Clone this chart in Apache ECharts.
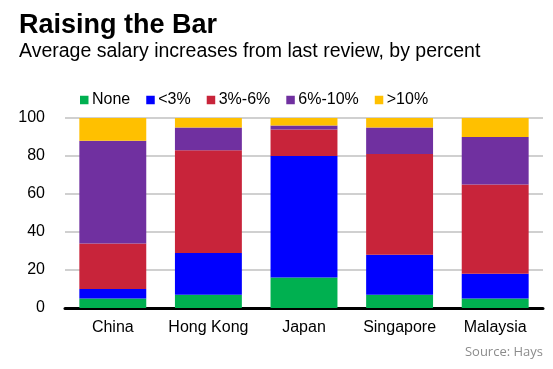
<!DOCTYPE html>
<html><head><meta charset="utf-8">
<script src="https://cdn.jsdelivr.net/npm/echarts@6/dist/echarts.min.js"></script>
<style>html,body{margin:0;padding:0;background:#fff}#c{width:553px;height:369px}</style>
</head><body><div id="c"></div>
<script>
const categories = ['China', 'Hong Kong', 'Japan', 'Singapore', 'Malaysia'];
const seriesNames = ['None', '<3%', '3%-6%', '6%-10%', '>10%'];
const none = [5, 7, 16, 7, 5];
const lt3 = [5, 22, 64, 21, 13];
const p3to6 = [24, 54, 14, 53, 47];
const p6to10 = [54, 12, 2, 14, 25];
const gt10 = [12, 5, 4, 5, 10];
const yTicks = [0, 20, 40, 60, 80, 100];
const colors = ['#00b050', '#0000ff', '#c8243a', '#7030a0', '#ffc000'];
const values = [none, lt3, p3to6, p6to10, gt10];

const chart = echarts.init(document.getElementById('c'), null, {renderer: 'canvas'});
const font = 'Liberation Sans, Arial, sans-serif';
chart.setOption({
  animation: false,
  color: colors,
  title: [
    {text: 'Raising the Bar', left: 19, top: 12, padding: 0, textStyle: {fontFamily: font, fontSize: 27, fontWeight: 'bold', color: '#000'}},
    {text: 'Average salary increases from last review, by percent', left: 19, top: 42, padding: 0, textStyle: {fontFamily: font, fontSize: 19.5, fontWeight: 'normal', color: '#000'}},
    {text: 'Source: Hays', right: 10, top: 346, padding: 0, textStyle: {fontFamily: 'Open Sans, sans-serif', fontSize: 13, fontWeight: 'normal', color: '#8c8c8c'}}
  ],
  legend: {
    left: 80, top: 92, padding: 0,
    icon: 'rect', itemWidth: 8.5, itemHeight: 8.5, itemGap: 16,
    textStyle: {fontFamily: font, fontSize: 16, color: '#000', padding: [0, 0, 0, -1.5]},
    data: seriesNames
  },
  grid: {left: 65, right: 10, top: 118, bottom: 61},
  xAxis: {
    type: 'category', data: categories,
    axisLine: {lineStyle: {color: '#000', width: 3}},
    axisTick: {show: false},
    axisLabel: {fontFamily: font, fontSize: 16, color: '#000', margin: 12, interval: 0}
  },
  yAxis: {
    type: 'value', min: 0, max: 100, interval: 20,
    axisLine: {show: false}, axisTick: {show: false},
    axisLabel: {fontFamily: font, fontSize: 16, color: '#000', margin: 20,
      formatter: v => yTicks.includes(v) ? String(v) : ''},
    splitLine: {lineStyle: {color: '#c0c0c0', width: 1.5}}
  },
  series: seriesNames.map((n, i) => ({
    name: n, type: 'bar', stack: 'total', barWidth: '70%',
    data: values[i], itemStyle: {color: colors[i]}
  }))
});
</script></body></html>
